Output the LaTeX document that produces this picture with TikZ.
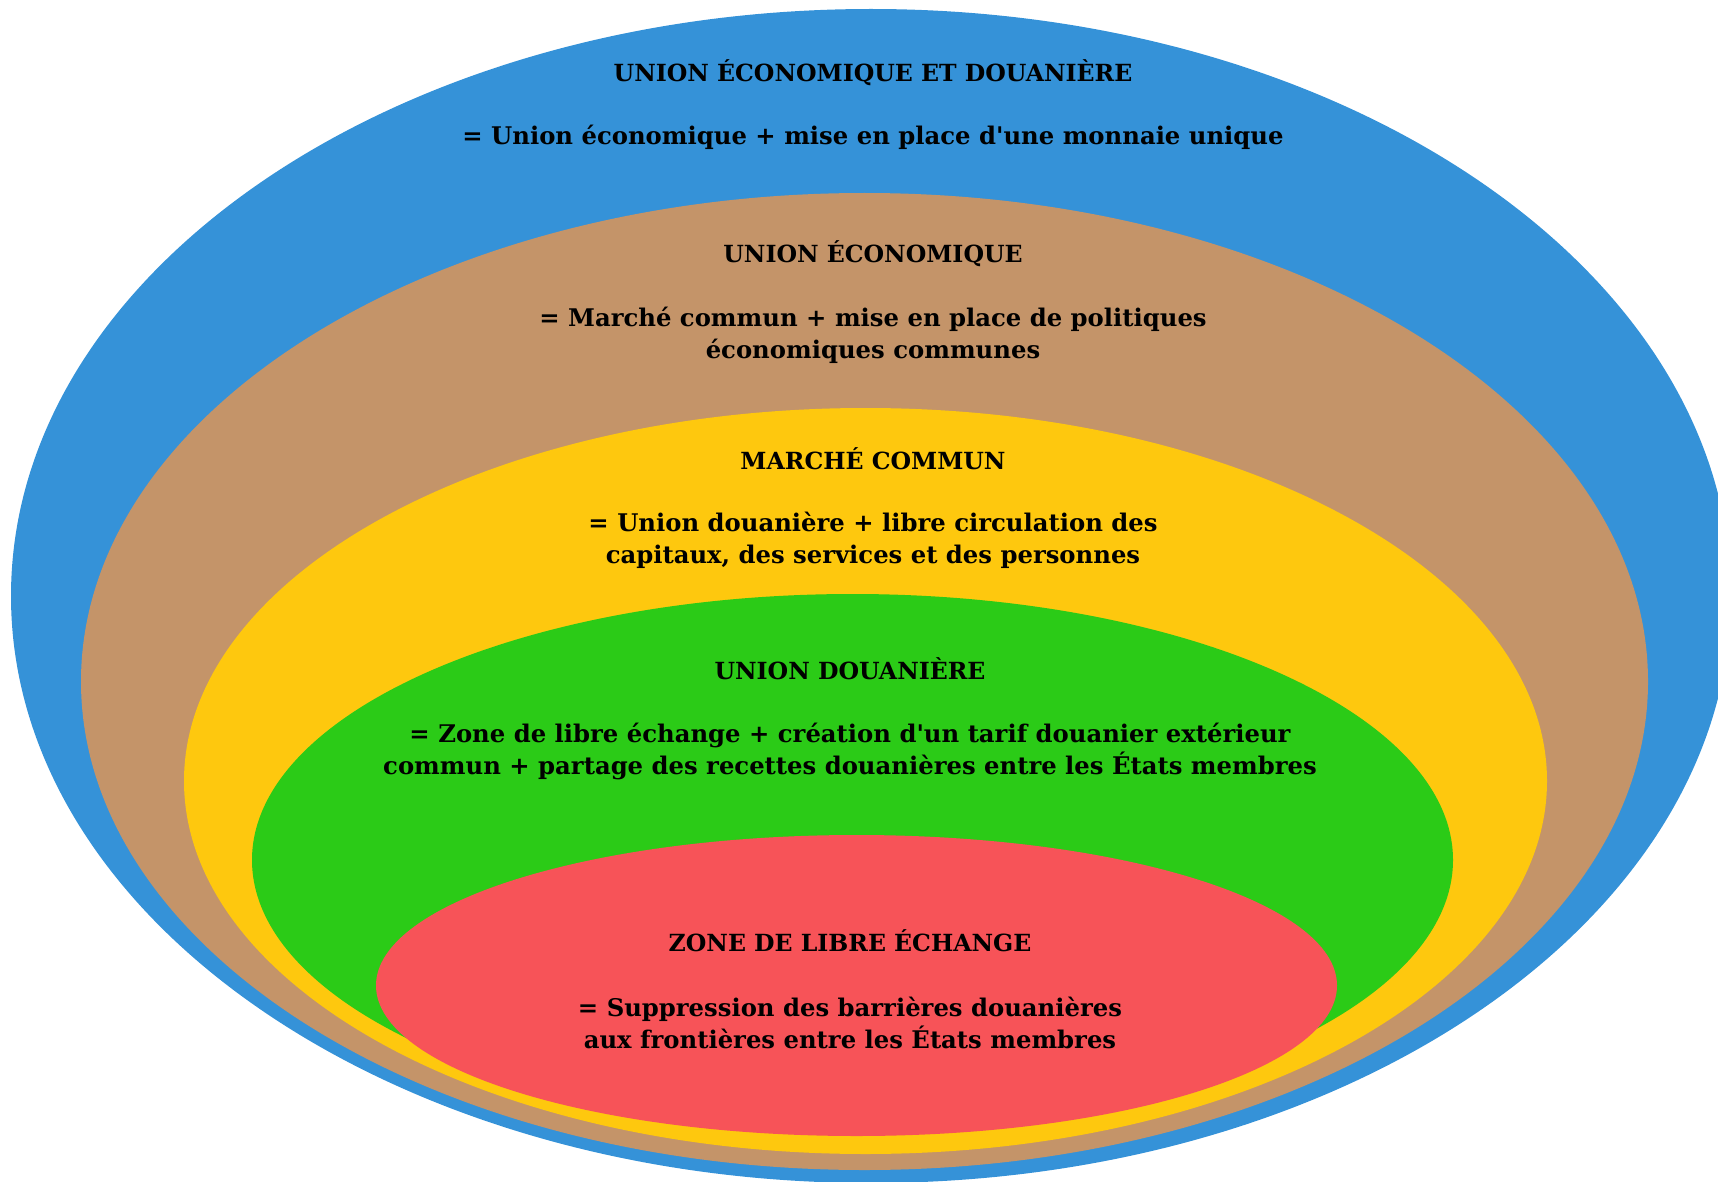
\documentclass[tikz,border=0pt]{standalone}
\usepackage{fontspec}
\setmainfont{DejaVu Serif}
\definecolor{cblue}{RGB}{53,146,216}
\definecolor{cbrown}{RGB}{196,148,105}
\definecolor{cyellow}{RGB}{254,200,14}
\definecolor{cgreen}{RGB}{43,203,23}
\definecolor{cred}{RGB}{247,83,88}
\begin{document}
\begin{tikzpicture}[x=1pt,y=-1pt,
  lbl/.style={inner sep=0pt,align=center,text=black,
    font=\fontsize{24.3}{32}\selectfont\bfseries},
  ttl/.style={lbl,font=\fontsize{23.6}{32}\selectfont\bfseries}]
\useasboundingbox (0,0) rectangle (1718,1182);
\clip (0,0) rectangle (1718,1182);
\fill[cblue]   (871,596)    ellipse [x radius=860,   y radius=587];
\fill[cbrown]  (864.5,681.5) ellipse [x radius=783.5, y radius=488.5];
\fill[cyellow] (865.5,781)  ellipse [x radius=681.5, y radius=373];
\fill[cgreen]  (852.5,860)  ellipse [x radius=600.5, y radius=266];
\fill[cred]    (856.5,985.5) ellipse [x radius=480.5, y radius=150.5];
% texts
\node[ttl] (t1) at (873,73) {UNION ÉCONOMIQUE ET DOUANIÈRE};
\node[lbl] (d1) at (873,137) {= Union économique + mise en place d\textquotesingle une monnaie unique};
\node[ttl] (t2) at (873,254) {UNION ÉCONOMIQUE};
\node[lbl] (d2) at (873,335) {= Marché commun + mise en place de politiques\\économiques communes};
\node[ttl] (t3) at (873,459) {MARCHÉ COMMUN};
\node[lbl] (d3) at (873,540.5) {= Union douanière + libre circulation des\\capitaux, des services et des personnes};
\node[ttl] (t4) at (850,669) {UNION DOUANIÈRE};
\node[lbl] (d4) at (850,751.5) {= Zone de libre échange + création d\textquotesingle un tarif douanier extérieur\\commun + partage des recettes douanières entre les États membres};
\node[ttl] (t5) at (850,941) {ZONE DE LIBRE ÉCHANGE};
\node[lbl] (d5) at (850,1022.5) {= Suppression des barrières douanières\\aux frontières entre les États membres};
\end{tikzpicture}
\end{document}
